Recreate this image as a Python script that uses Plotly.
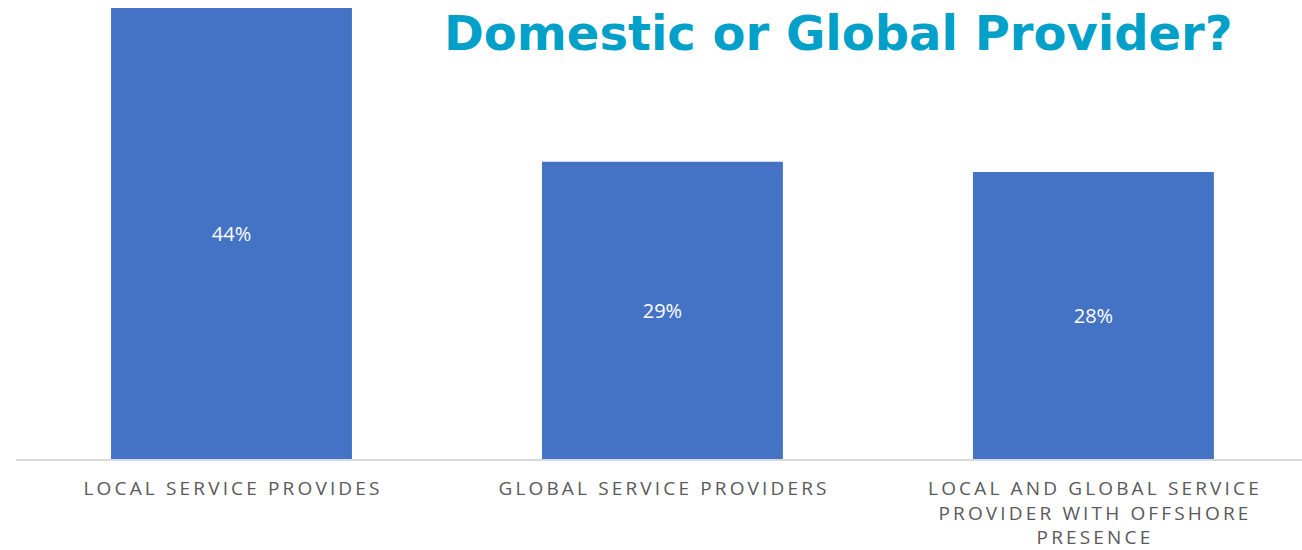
import plotly.graph_objects as go

categories = [
    "LOCAL SERVICE PROVIDES",
    "GLOBAL SERVICE PROVIDERS",
    "LOCAL AND GLOBAL SERVICE<br>PROVIDER WITH OFFSHORE<br>PRESENCE",
]
shares = [44, 29, 28]
value_labels = ["44%", "29%", "28%"]
title_text = "Domestic or Global Provider?"


def tracked(label, gap="\u2009"):
    """Spread the letters of each line with thin spaces (wide tracking)."""
    return "<br>".join(gap.join(line) for line in label.split("<br>"))


fig = go.Figure(
    go.Bar(
        x=[0, 1, 2],
        y=shares,
        width=0.559,
        marker=dict(color="#4472C4", line=dict(width=0)),
        text=value_labels,
        textposition="inside",
        insidetextanchor="middle",
        textfont=dict(family="Open Sans", size=20, color="#FFFFFF"),
        hoverinfo="skip",
    )
)

fig.update_layout(
    width=1302,
    height=550,
    margin=dict(l=16, r=0, t=8, b=91),
    paper_bgcolor="#FFFFFF",
    plot_bgcolor="#FFFFFF",
    showlegend=False,
    xaxis=dict(
        range=[-0.5, 2.484],
        tickmode="array",
        tickvals=[0, 1, 2],
        ticktext=[tracked(c) for c in categories],
        tickfont=dict(family="Open Sans", size=19, color="#595959"),
        ticklabelstandoff=11,
        showline=True,
        linecolor="#D9D9D9",
        linewidth=2,
        showgrid=False,
        zeroline=False,
        ticks="",
        tickangle=0,
    ),
    yaxis=dict(
        range=[0, 44],
        visible=False,
        showgrid=False,
        zeroline=False,
    ),
    annotations=[
        dict(
            text=f"<b>{title_text}</b>",
            xref="paper",
            yref="paper",
            x=(838 - 16) / 1286,
            y=(459 - 33) / 451,
            xanchor="center",
            yanchor="middle",
            showarrow=False,
            font=dict(family="DejaVu Sans", size=48, color="#00A0C8"),
        )
    ],
)

fig.write_html("out.html")
